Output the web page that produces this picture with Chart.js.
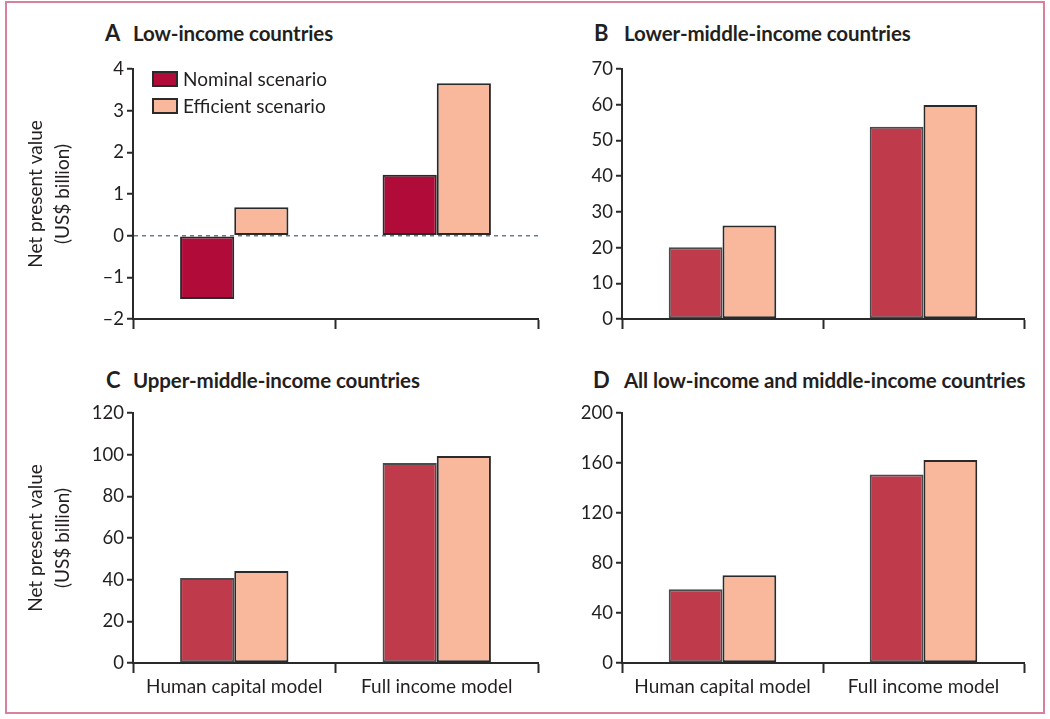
<!DOCTYPE html>
<html>
<head>
<meta charset="utf-8">
<script src="https://cdn.jsdelivr.net/npm/chart.js@4.4.1/dist/chart.umd.min.js"></script>
<style>
  html, body { margin: 0; padding: 0; background: #fff; }
  body { width: 1050px; height: 719px; position: relative; overflow: hidden; font-family: Lato, sans-serif; color: #231f20; }
  #frame { position: absolute; left: 5px; top: 1px; width: 1036px; height: 709px; border: 2px solid #d9809a; }
  canvas { position: absolute; }
  .letter { position: absolute; font-size: 22px; font-weight: 700; line-height: 24px; }
  .name { position: absolute; font-size: 20.5px; font-weight: 700; line-height: 24px; white-space: nowrap; letter-spacing: -0.1px; }
</style>
</head>
<body>
<div id="frame"></div>

<div class="letter" style="left:105px;top:21px">A</div>
<div class="name" style="left:133px;top:21px">Low-income countries</div>
<div class="letter" style="left:594px;top:21px">B</div>
<div class="name" style="left:624px;top:21px">Lower-middle-income countries</div>
<div class="letter" style="left:106px;top:368px">C</div>
<div class="name" style="left:133px;top:368px">Upper-middle-income countries</div>
<div class="letter" style="left:593px;top:368px">D</div>
<div class="name" style="left:624px;top:368px">All low-income and middle-income countries</div>

<canvas id="chartA" width="545" height="313" style="left:5px;top:50px"></canvas>
<canvas id="chartB" width="495" height="313" style="left:550px;top:50px"></canvas>
<canvas id="chartC" width="545" height="314" style="left:5px;top:393px"></canvas>
<canvas id="chartD" width="495" height="314" style="left:550px;top:393px"></canvas>

<script>
// categories and series
const categories = ['Human capital model', 'Full income model']
const seriesNames = ['Nominal scenario', 'Efficient scenario']

// values in US$ billion
const lowNominal = [-1.52, 1.46]
const lowEfficient = [0.68, 3.66]
const lowerMidNominal = [20.1, 53.8]
const lowerMidEfficient = [26.2, 59.9]
const upperMidNominal = [40.8, 96.0]
const upperMidEfficient = [44.2, 99.4]
const allNominal = [59.0, 150.8]
const allEfficient = [70.2, 162.5]

// y tick labels per panel
const ticksA = [-2, -1, 0, 1, 2, 3, 4]
const ticksB = [0, 10, 20, 30, 40, 50, 60, 70]
const ticksC = [0, 20, 40, 60, 80, 100, 120]
const ticksD = [0, 40, 80, 120, 160, 200]

const yTitle = ['Net present value', '(US$ billion)']

const axisColor = '#2a2a2a'
const textColor = '#231f20'
const efficientColor = '#f9b79c'

// draws the little key in panel A
const legendBox = {
  id: 'legendBox',
  afterDatasetsDraw(chart) {
    const ctx = chart.ctx
    const area = chart.chartArea
    ctx.save()
    chart.data.datasets.forEach(function (ds, i) {
      const x = area.left + 20
      const y = area.top + 3 + i * 27
      ctx.fillStyle = ds.backgroundColor
      ctx.fillRect(x, y, 24, 14)
      ctx.lineWidth = 2
      ctx.strokeStyle = axisColor
      ctx.strokeRect(x, y, 24, 14)
      ctx.fillStyle = textColor
      ctx.font = '19px Lato'
      ctx.textBaseline = 'middle'
      ctx.fillText(ds.label, x + 30, y + 7.5)
    })
    ctx.restore()
  }
}

function makePanel(id, cfg) {
  var ctx = document.getElementById(id).getContext('2d')
  var ticks = cfg.ticks
  return new Chart(ctx, {
    type: 'bar',
    data: {
      labels: categories,
      datasets: [{
        label: seriesNames[0],
        data: cfg.nominal,
        backgroundColor: cfg.nominalColor,
        borderColor: cfg.nominalBorder,
        borderWidth: 2,
        borderSkipped: false
      }, {
        label: seriesNames[1],
        data: cfg.efficient,
        backgroundColor: efficientColor,
        borderColor: axisColor,
        borderWidth: 2,
        borderSkipped: false
      }]
    },
    options: {
      responsive: false,
      animation: false,
      layout: { padding: cfg.padding },
      datasets: { bar: { categoryPercentage: 0.535, barPercentage: 1 } },
      plugins: { legend: { display: false }, tooltip: { enabled: false } },
      scales: {
        x: {
          grid: { offset: true, drawOnChartArea: false, tickLength: 10, tickColor: axisColor, tickWidth: 2 },
          border: { color: axisColor, width: 2 },
          ticks: { display: cfg.showLabels, color: textColor, font: { family: 'Lato', size: 19 }, padding: 2, maxRotation: 0 },
          afterFit: function (s) { s.height = cfg.xHeight }
        },
        y: {
          min: ticks[0],
          max: ticks[ticks.length - 1],
          ticks: {
            stepSize: ticks[1] - ticks[0],
            color: textColor,
            font: { family: 'Lato', size: 18.5 },
            padding: 3,
            callback: function (v) { return String(v).replace('-', '\u2013') }
          },
          grid: {
            drawOnChartArea: !!cfg.zeroLine,
            color: function (c) { return c.tick && c.tick.value === 0 ? '#5f8090' : 'rgba(0,0,0,0)' },
            lineWidth: 1.5,
            tickLength: 6,
            tickColor: axisColor,
            tickWidth: 2
          },
          border: { color: axisColor, width: 2, dash: cfg.zeroLine ? [4, 4] : [] },
          title: {
            display: !!cfg.yTitle,
            text: yTitle,
            color: textColor,
            font: { family: 'Lato', size: 19, lineHeight: 1.45 },
            padding: { top: 17, bottom: 0 }
          },
          afterFit: function (s) { s.width = cfg.yWidth }
        }
      }
    },
    plugins: cfg.legend ? [legendBox] : []
  })
}

makePanel('chartA', {
  nominal: lowNominal, efficient: lowEfficient, ticks: ticksA,
  nominalColor: '#b10b39', nominalBorder: axisColor,
  padding: { left: 0, right: 12, top: 19, bottom: 0 },
  yWidth: 128, xHeight: 44, yTitle: true, zeroLine: true, legend: true, showLabels: false
})
makePanel('chartB', {
  nominal: lowerMidNominal, efficient: lowerMidEfficient, ticks: ticksB,
  nominalColor: '#bf3b4c', nominalBorder: '#4a4a4a',
  padding: { left: 0, right: 21, top: 19, bottom: 0 },
  yWidth: 72, xHeight: 44, showLabels: false
})
makePanel('chartC', {
  nominal: upperMidNominal, efficient: upperMidEfficient, ticks: ticksC,
  nominalColor: '#bf3b4c', nominalBorder: '#4a4a4a',
  padding: { left: 0, right: 12, top: 20, bottom: 0 },
  yWidth: 128, xHeight: 44, yTitle: true, showLabels: true
})
makePanel('chartD', {
  nominal: allNominal, efficient: allEfficient, ticks: ticksD,
  nominalColor: '#bf3b4c', nominalBorder: '#4a4a4a',
  padding: { left: 0, right: 21, top: 20, bottom: 0 },
  yWidth: 72, xHeight: 44, showLabels: true
})
</script>
</body>
</html>
